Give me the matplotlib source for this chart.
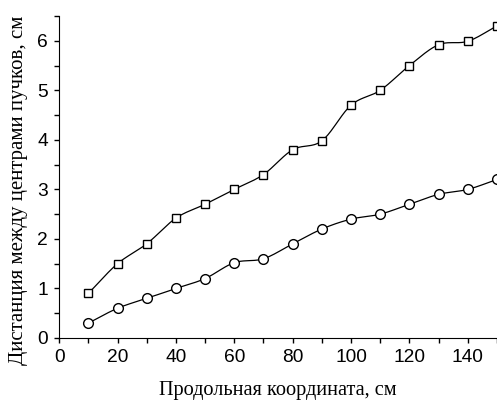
import numpy as np
import matplotlib.pyplot as plt
from matplotlib.ticker import MultipleLocator

# values
x = [10, 20, 30, 40, 50, 60, 70, 80, 90, 100, 110, 120, 130, 140, 150]
upper = [0.9, 1.5, 1.9, 2.42, 2.7, 3.0, 3.3, 3.8, 3.98, 4.7, 5.0, 5.5, 5.92, 5.99, 6.3]
lower = [0.3, 0.6, 0.8, 1.0, 1.2, 1.52, 1.6, 1.9, 2.2, 2.4, 2.5, 2.7, 2.9, 3.0, 3.2]


def smooth(xs, ys, n=20):
    # Catmull-Rom curve through the points, like Origin's spline connection
    xs = np.asarray(xs, float)
    ys = np.asarray(ys, float)
    px = np.concatenate([[2 * xs[0] - xs[1]], xs, [2 * xs[-1] - xs[-2]]])
    py = np.concatenate([[2 * ys[0] - ys[1]], ys, [2 * ys[-1] - ys[-2]]])
    t = np.linspace(0, 1, n)
    out_x, out_y = [], []
    for i in range(1, len(px) - 2):
        for p, out in ((px, out_x), (py, out_y)):
            p0, p1, p2, p3 = p[i - 1], p[i], p[i + 1], p[i + 2]
            out.extend(0.5 * (2 * p1 + (-p0 + p2) * t
                              + (2 * p0 - 5 * p1 + 4 * p2 - p3) * t ** 2
                              + (-p0 + 3 * p1 - 3 * p2 + p3) * t ** 3))
    return out_x, out_y


fig = plt.figure(figsize=(4.97, 4.0), dpi=100)
ax = fig.add_axes([0.119, 0.155, 0.881, 0.805])

for ys, mk, ms in ((upper, 's', 6.3), (lower, 'o', 7)):
    sx, sy = smooth(x, ys)
    ax.plot(sx, sy, color='black', lw=0.9, zorder=2)
    ax.plot(x, ys, ls='none', marker=mk, ms=ms, mfc='white', mec='black',
            mew=1.0, zorder=3, clip_on=False)

ax.set_xlim(0, 150)
ax.set_ylim(0, 6.5)
ax.xaxis.set_major_locator(MultipleLocator(20))
ax.xaxis.set_minor_locator(MultipleLocator(10))
ax.yaxis.set_major_locator(MultipleLocator(1))
ax.yaxis.set_minor_locator(MultipleLocator(0.5))
ax.spines['top'].set_visible(False)
ax.spines['right'].set_visible(False)
ax.tick_params(which='both', direction='out', width=1.0, length=3.5,
               labelsize=13.8, pad=4.5)
for lab in ax.get_xticklabels() + ax.get_yticklabels():
    lab.set_family('Liberation Sans')

ax.set_xlabel('Продольная координата, см', family='Liberation Serif',
              fontsize=14.6)
ax.xaxis.set_label_coords(0.5, -0.132)
ax.set_ylabel('Дистанция между центрами пучков, см', family='Liberation Serif',
              fontsize=15)
ax.yaxis.set_label_coords(-0.071, 0.46)

fig.savefig('out.png', dpi=100)
